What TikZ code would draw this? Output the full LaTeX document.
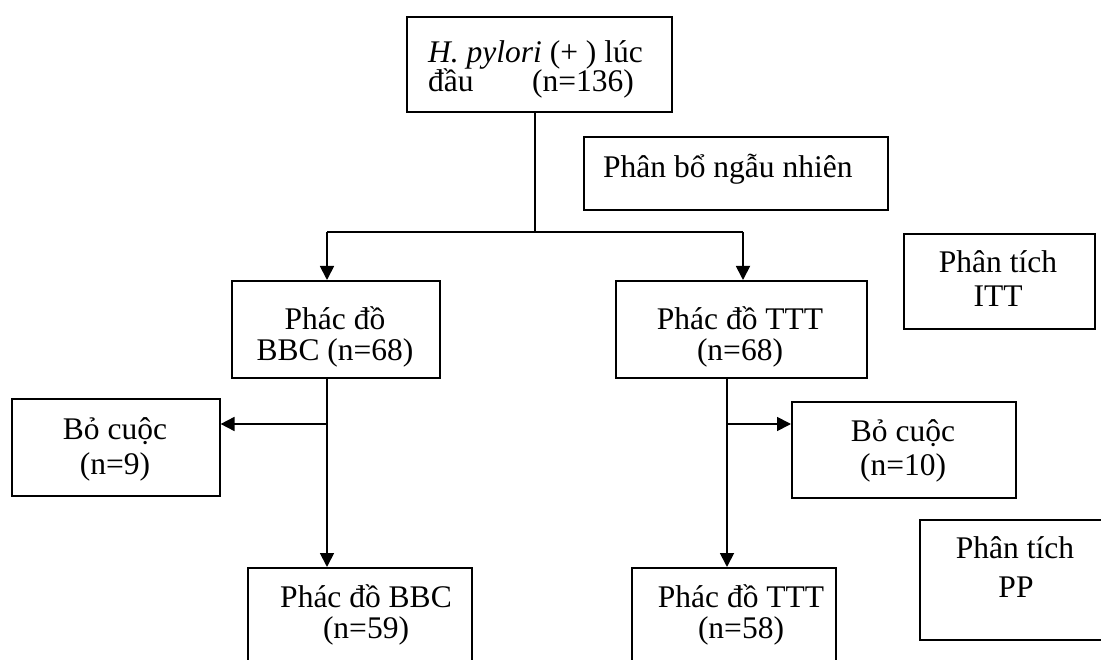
\documentclass[tikz,border=0pt]{standalone}
\usepackage{fontspec}
\setmainfont{Liberation Serif}
\usetikzlibrary{arrows.meta}
\begin{document}
\begin{tikzpicture}[x=1pt,y=-1pt,
  font=\fontsize{31.5pt}{31pt}\selectfont,
  box/.style={draw, line width=1.6pt, inner sep=0pt, anchor=north west},
  txt/.style={inner sep=0pt, anchor=base},
  txtl/.style={inner sep=0pt, anchor=base west},
  conn/.style={line width=1.8pt},
  arr/.style={conn, -{Triangle[length=14pt,width=14pt]}}]
\useasboundingbox (0,0) rectangle (1101,660);
\clip (0,0) rectangle (1101,660);
% boxes
\node[box, minimum width=265pt, minimum height=95pt] (top) at (406,16) {};
\node[box, minimum width=304pt, minimum height=73pt] (rand) at (583,136) {};
\node[box, minimum width=191pt, minimum height=95pt] (itt) at (903,233) {};
\node[box, minimum width=208pt, minimum height=97pt] (bbc) at (231,280) {};
\node[box, minimum width=251pt, minimum height=97pt] (ttt) at (615,280) {};
\node[box, minimum width=208pt, minimum height=97pt] (dl) at (11,398) {};
\node[box, minimum width=224pt, minimum height=96pt] (dr) at (791,401) {};
\node[box, minimum width=192pt, minimum height=120pt] (pp) at (919,519) {};
\node[box, minimum width=224pt, minimum height=140pt] (bbc2) at (247,567) {};
\node[box, minimum width=204pt, minimum height=140pt] (ttt2) at (631,567) {};
% texts
\node[txtl] (top-a) at (428,63) {\textit{H. pylori} (+ ) lúc};
\node[txtl] (top-b) at (428,92) {đầu};
\node[txtl] (top-c) at (532,92) {(n=136)};
\node[txtl] (rand-t) at (603,178) {Phân bổ ngẫu nhiên};
\node[txt] (itt-a) at (998,273) {Phân tích};
\node[txt] (itt-b) at (998,307) {ITT};
\node[txt] (bbc-a) at (335,330) {Phác đồ};
\node[txt] (bbc-b) at (335,361) {BBC (n=68)};
\node[txt] (ttt-a) at (740,330) {Phác đồ TTT};
\node[txt] (ttt-b) at (740,361) {(n=68)};
\node[txt] (dl-a) at (115,439) {Bỏ cuộc};
\node[txt] (dl-b) at (115,474) {(n=9)};
\node[txt] (dr-a) at (903,441) {Bỏ cuộc};
\node[txt] (dr-b) at (903,475) {(n=10)};
\node[txt] (pp-a) at (1015,558) {Phân tích};
\node[txt] (pp-b) at (1016,597) {PP};
\node[txt] (bbc2-a) at (366,607) {Phác đồ BBC};
\node[txt] (bbc2-b) at (366,638) {(n=59)};
\node[txt] (ttt2-a) at (741,607) {Phác đồ TTT};
\node[txt] (ttt2-b) at (741,638) {(n=58)};
% connectors
\coordinate (split) at (535,232);
\coordinate (jl) at (327,232);
\coordinate (jr) at (743,232);
\coordinate (kl) at (327,424);
\coordinate (kr) at (727,424);
\draw[conn] (top.south -| split) -- (split);
\draw[conn] (jl) -- (jr);
\draw[arr] (jl) -- (jl |- bbc.north);
\draw[arr] (jr) -- (jr |- ttt.north);
\draw[arr] (bbc.south -| jl) -- (bbc2.north -| jl);
\draw[arr] (kl) -- (kl -| dl.east);
\draw[arr] (ttt.south -| kr) -- (ttt2.north -| kr);
\draw[arr] (kr) -- (kr -| dr.west);
\end{tikzpicture}
\end{document}
